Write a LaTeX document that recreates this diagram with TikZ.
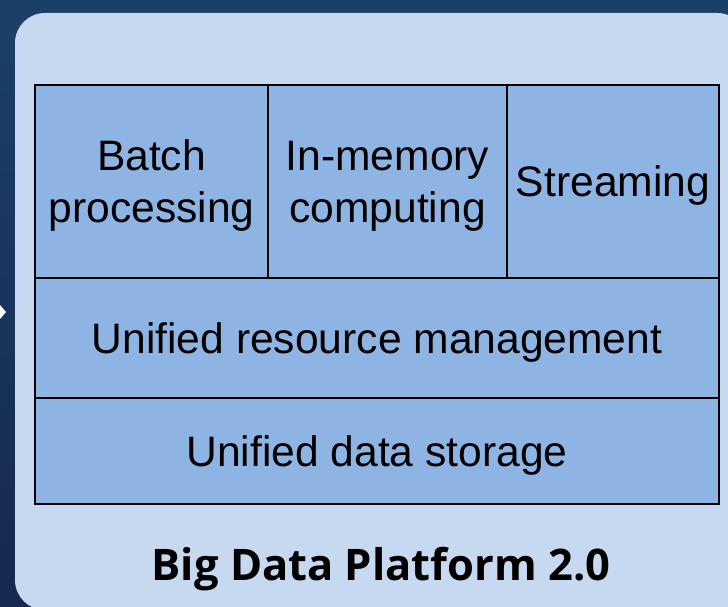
\documentclass[tikz,border=0pt]{standalone}
\usepackage{fontspec}
\setmainfont{Liberation Sans}
\newfontfamily\titlefont{Open Sans}
\definecolor{bgtop}{RGB}{27,64,104}
\definecolor{bgbot}{RGB}{23,41,80}
\definecolor{panel}{RGB}{198,217,241}
\definecolor{cell}{RGB}{142,180,227}
\tikzset{
  cellbox/.style={draw=black, line width=2.8pt, fill=cell, rectangle,
    inner sep=0pt, align=center, text depth=-2pt,
    font=\fontsize{42.6}{52}\selectfont},
}
\begin{document}
\begin{tikzpicture}[x=1pt,y=-1pt]
  % backdrop
  \shade[top color=bgtop, bottom color=bgbot] (0,0) rectangle (728,607);
  \useasboundingbox (0,0) rectangle (728,607);
  % pointer tip on the left edge
  \fill[white] (0,305) -- (6,312) -- (0,319) -- cycle;
  % platform panel
  \fill[panel, rounded corners=30pt] (15,13) rectangle (747,610);
  % layer cells
  \node[cellbox, minimum width=233pt, minimum height=193pt] (batch) at (151.5,181.5) {Batch\\processing};
  \node[cellbox, minimum width=239pt, minimum height=193pt] (inmem) at (387.5,181.5) {In-memory\\computing};
  \node[cellbox, minimum width=212pt, minimum height=193pt] (stream) at (613,181.5) {Streaming};
  \node[cellbox, minimum width=684pt, minimum height=120pt] (resource) at (377,338) {Unified resource management};
  \node[cellbox, minimum width=684pt, minimum height=106pt] (storage) at (377,451) {Unified data storage};
  % caption
  \node[anchor=base, inner sep=0pt, font=\titlefont\bfseries\fontsize{43.5}{50}\selectfont] (title) at (381,580) {Big Data Platform 2.0};
\end{tikzpicture}
\end{document}
